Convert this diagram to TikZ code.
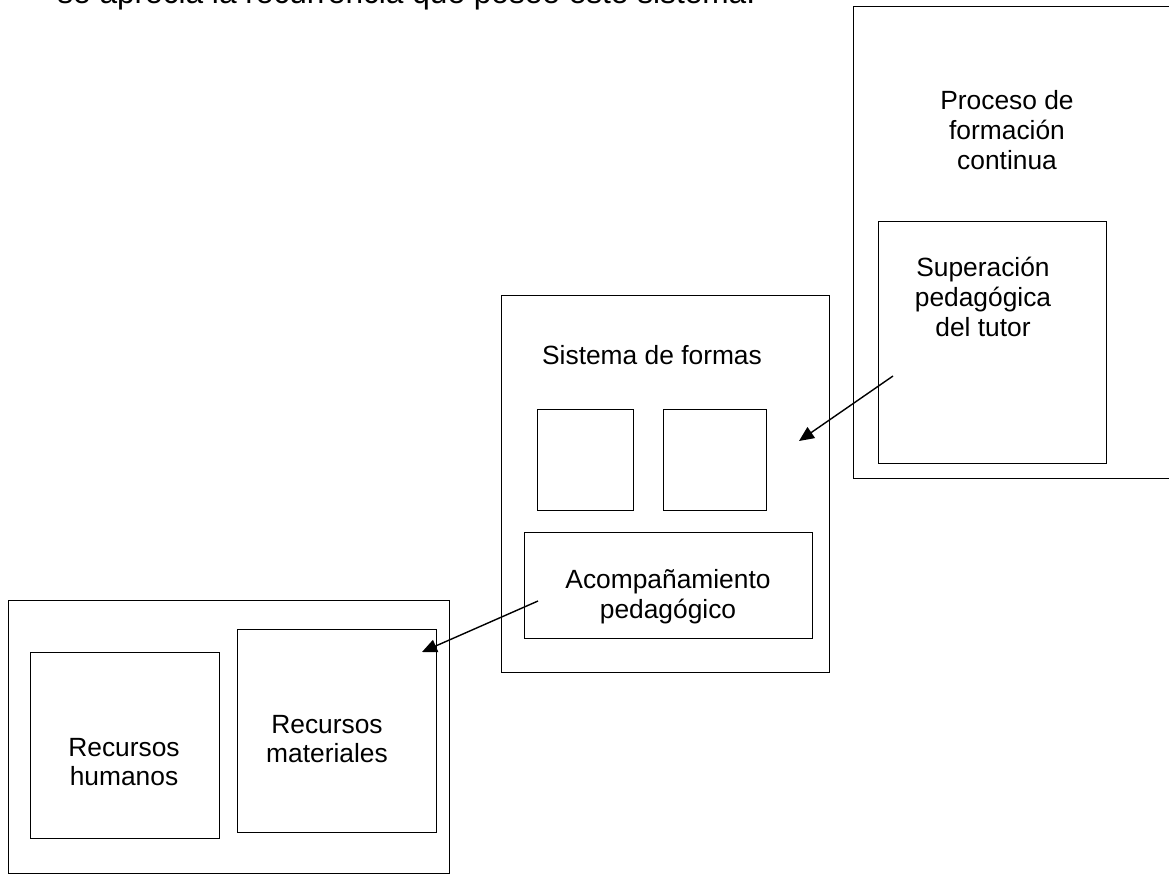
\documentclass[tikz,border=0pt]{standalone}
\usepackage{fontspec}
\setmainfont{Liberation Sans}
\usetikzlibrary{arrows.meta}

\tikzset{
  caja/.style 2 args={draw, line width=0.8pt, anchor=north west, inner sep=0pt,
    minimum width=#1*0.02cm, minimum height=#2*0.02cm},
  texto/.style={align=center, inner sep=0pt, font=\fontsize{15}{17}\selectfont},
  flecha/.style={line width=0.8pt, -{Triangle[length=8.5pt, width=7.5pt]}}
}

\begin{document}
\begin{tikzpicture}[x=0.02cm, y=-0.02cm]
\useasboundingbox (0,0) rectangle (1169,875);
\clip (0,0) rectangle (1169,875);

% line of running text, cut at the top
\node[inner sep=0pt, font=\fontsize{18}{21}\selectfont, anchor=base west] (linea) at (57,4) {se aprecia la recurrencia que posee este sistema.};

% right block
\node[caja={340}{472}] (proceso) at (853,6) {};
\node[caja={228}{242}] (superacion) at (878,221) {};
\node[texto] (tproceso) at (1007,130) {Proceso de\\formación\\continua};
\node[texto] (tsuperacion) at (983,297) {Superación\\pedagógica\\del tutor};

% middle block
\node[caja={328}{377}] (sistema) at (501,295) {};
\node[texto] (tsistema) at (652,355) {Sistema de formas};
\node[caja={96}{101}] (formaA) at (537,409) {};
\node[caja={103}{101}] (formaB) at (663,409) {};
\node[caja={288}{106}] (acomp) at (524,532) {};
\node[texto] (tacomp) at (668,597) {Acompañamiento\\pedagógico};

% left block
\node[caja={441}{273}] (recursos) at (8,600) {};
\node[caja={189}{186}] (humanos) at (30,652) {};
\node[caja={199}{203}] (materiales) at (237,629) {};
\node[texto] (thumanos) at (124,762) {Recursos\\humanos};
\node[texto] (tmateriales) at (327,739) {Recursos\\materiales};

% arrows
\coordinate (desde1) at (893,376);
\coordinate (hasta1) at (799,441);
\coordinate (desde2) at (538,601);
\coordinate (hasta2) at (422,652);
\draw[flecha] (desde1) -- (hasta1);
\draw[flecha] (desde2) -- (hasta2);

%\node at (580,40) {};
\end{tikzpicture}
\end{document}
